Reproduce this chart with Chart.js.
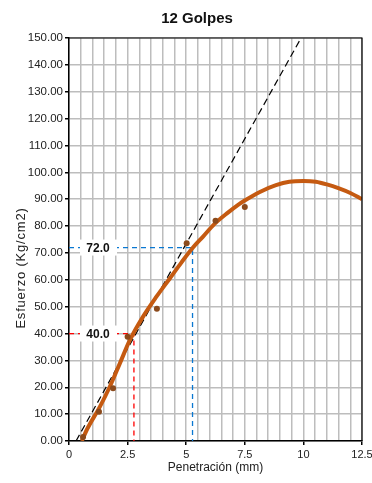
<!DOCTYPE html>
<html>
<head>
<meta charset="utf-8">
<script src="https://cdn.jsdelivr.net/npm/chart.js@4/dist/chart.umd.min.js"></script>
<style>
html,body{margin:0;padding:0;background:#fff;}
#wrap{width:372px;height:483px;position:relative;}
</style>
</head>
<body>
<div id="wrap"><canvas id="c"></canvas></div>
<script>
// ---- data ----
const titleText = "12 Golpes";
const xTitle = "Penetración (mm)";
const yTitle = "Esfuerzo (Kg/cm2)";
const xTickLabels = ["0", "2.5", "5", "7.5", "10", "12.5"];
const pointX = [0.6, 1.28, 1.88, 2.5, 3.75, 5.02, 6.25, 7.5];
const pointY = [1.5, 10.9, 19.6, 38.8, 49.2, 73.6, 82.0, 87.1];
const curveX = [0.55, 0.75, 1.32, 1.74, 2.17, 2.6, 3.16, 3.73, 4.3, 4.8, 5.29, 5.71, 6.21, 6.78, 7.2, 7.48, 8.12, 8.83, 9.4, 10.0, 10.53, 11.0, 11.52, 12.0, 12.5];
const curveY = [0, 4, 12.8, 20.2, 28.9, 37.6, 46.3, 53.7, 60.5, 66.5, 72, 76, 80.8, 85, 87.8, 89.4, 92.6, 95.2, 96.5, 96.8, 96.5, 95.5, 94, 92.3, 90];
const tangentX = [0.3, 9.9];
const tangentY = [0, 150];
const read1 = {x: 2.77, y: 40.0, label: "40.0"};
const read2 = {x: 5.27, y: 72.0, label: "72.0"};

const zip = (xs, ys) => xs.map((x, i) => ({x: x, y: ys[i]}));
const corner = r => [{x: 0, y: r.y}, {x: r.x, y: r.y}, {x: r.x, y: 0}];

const FONT = "'Liberation Sans', Arial, sans-serif";

const overlay = {
  id: 'overlay',
  afterDatasetsDraw(chart) {
    const ctx = chart.ctx, ys = chart.scales.y, a = chart.chartArea;
    ctx.save();
    ctx.strokeStyle = '#000'; ctx.lineWidth = 1.2;
    ctx.beginPath();
    ctx.moveTo(a.left, a.top); ctx.lineTo(a.right, a.top); ctx.lineTo(a.right, a.bottom);
    ctx.stroke();
    ctx.font = "bold 12px " + FONT;
    ctx.textAlign = 'center'; ctx.textBaseline = 'middle';
    [read1, read2].forEach(r => {
      const cx = 98, cy = ys.getPixelForValue(r.y);
      ctx.fillStyle = '#fff';
      ctx.fillRect(cx - 18, cy - 8, 37, 16);
      ctx.fillStyle = '#111';
      ctx.fillText(r.label, cx, cy + 1);
    });
    ctx.restore();
  },
  afterDraw(chart) {
    const ctx = chart.ctx;
    ctx.save();
    ctx.fillStyle = '#111';
    ctx.font = "bold 15px " + FONT;
    ctx.textAlign = 'center'; ctx.textBaseline = 'middle';
    ctx.fillText(titleText, 197, 19);
    ctx.translate(21, 268);
    ctx.rotate(-Math.PI / 2);
    ctx.font = "13px " + FONT;
    try { ctx.letterSpacing = '0.8px'; } catch (e) {}
    ctx.fillStyle = '#222';
    ctx.fillText(yTitle, 0, 0);
    ctx.restore();
  }
};

new Chart(document.getElementById('c'), {
  type: 'scatter',
  data: {
    datasets: [
      {label: 'puntos', data: zip(pointX, pointY), showLine: false,
       pointRadius: 3, pointBackgroundColor: '#8B4A1C', pointBorderColor: '#8B4A1C', borderWidth: 0},
      {label: 'curva', data: zip(curveX, curveY), showLine: true, cubicInterpolationMode: 'monotone',
       borderColor: '#C55A11', borderWidth: 4, pointRadius: 0, fill: false},
      {label: 'tangente', data: zip(tangentX, tangentY), showLine: true,
       borderColor: '#000', borderWidth: 1.2, borderDash: [7, 4], pointRadius: 0},
      {label: 'r40', data: corner(read1), showLine: true,
       borderColor: '#FF0000', borderWidth: 1.3, borderDash: [5, 4], pointRadius: 0},
      {label: 'r72', data: corner(read2), showLine: true,
       borderColor: '#0A78D2', borderWidth: 1.3, borderDash: [5, 4], pointRadius: 0}
    ]
  },
  options: {
    responsive: true,
    maintainAspectRatio: false,
    animation: false,
    layout: {padding: {left: 0, right: 10, top: 38, bottom: 0}},
    plugins: {legend: {display: false}, title: {display: false}, tooltip: {enabled: false}},
    scales: {
      x: {
        type: 'linear', min: 0, max: 12.5,
        afterFit: s => { s.height = 42; s.paddingLeft = 0; s.paddingRight = 0; },
        ticks: {
          stepSize: 0.5, autoSkip: false, maxRotation: 0, padding: 3,
          color: '#222', font: {family: FONT, size: 11},
          callback: v => {
            const k = v / 2.5;
            return Math.abs(k - Math.round(k)) < 1e-6 ? xTickLabels[Math.round(k)] : '';
          }
        },
        grid: {
          color: '#bdbdbd', lineWidth: 1.5, tickLength: 4,
          tickColor: c => {
            const v = c.tick ? c.tick.value / 2.5 : 0.5;
            return Math.abs(v - Math.round(v)) < 1e-6 ? '#000' : 'rgba(0,0,0,0)';
          }
        },
        border: {color: '#000', width: 1.5},
        title: {display: true, text: xTitle, color: '#222', font: {family: FONT, size: 12}, padding: {top: 4, bottom: 8}}
      },
      y: {
        type: 'linear', min: 0, max: 150,
        afterFit: s => { s.width = 69; s.paddingTop = 0; s.paddingBottom = 0; },
        ticks: {
          stepSize: 10, padding: 2, color: '#222', font: {family: FONT, size: 11.5},
          callback: v => v.toFixed(2)
        },
        grid: {color: '#bdbdbd', lineWidth: 1.5, tickLength: 4, tickColor: '#000'},
        border: {color: '#000', width: 1.5},
        title: {display: false}
      }
    }
  },
  plugins: [overlay]
});
</script>
</body>
</html>
